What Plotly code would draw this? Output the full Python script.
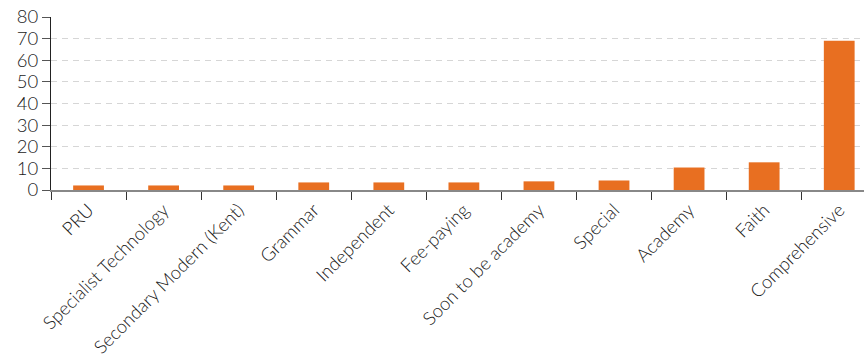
import plotly.graph_objects as go

categories = ["PRU", "Specialist Technology", "Secondary Modern (Kent)", "Grammar",
              "Independent", "Fee-paying", "Soon to be academy", "Special",
              "Academy", "Faith", "Comprehensive"]
values = [2.1, 2.1, 2.1, 3.5, 3.5, 3.5, 4.0, 4.4, 10.4, 12.8, 69.0]
y_ticks = [0, 10, 20, 30, 40, 50, 60, 70, 80]

fig = go.Figure(go.Bar(x=categories, y=values, marker_color="#E86F21",
                       marker_line_width=0))

font = dict(family="Lato, Open Sans, sans-serif", size=18, color="#1a1a1a", weight=300)

fig.update_layout(
    width=864, height=363,
    margin=dict(l=51, r=0, t=17, b=173),
    paper_bgcolor="white", plot_bgcolor="white",
    bargap=0.59,
    font=font,
    showlegend=False,
)
fig.update_xaxes(
    range=[-0.5, 10.33],
    tickangle=-45,
    automargin=False,
    showline=True, linecolor="#888888", linewidth=2,
    ticks="outside", ticklen=8, tickcolor="#333333", tickwidth=1,
    tickson="boundaries",
    showgrid=False,
    tickfont=dict(size=18.5),
)
fig.update_yaxes(
    range=[0, 80],
    tickvals=y_ticks,
    automargin=False,
    showline=True, linecolor="#222222", linewidth=1,
    ticks="outside", ticklen=8, tickcolor="#555555",
    showgrid=True, gridcolor="#d6d6d6", gridwidth=1.2, griddash="6px,5px",
    zeroline=False,
    tickfont=dict(size=18.5),
)
fig.write_html("out.html")
